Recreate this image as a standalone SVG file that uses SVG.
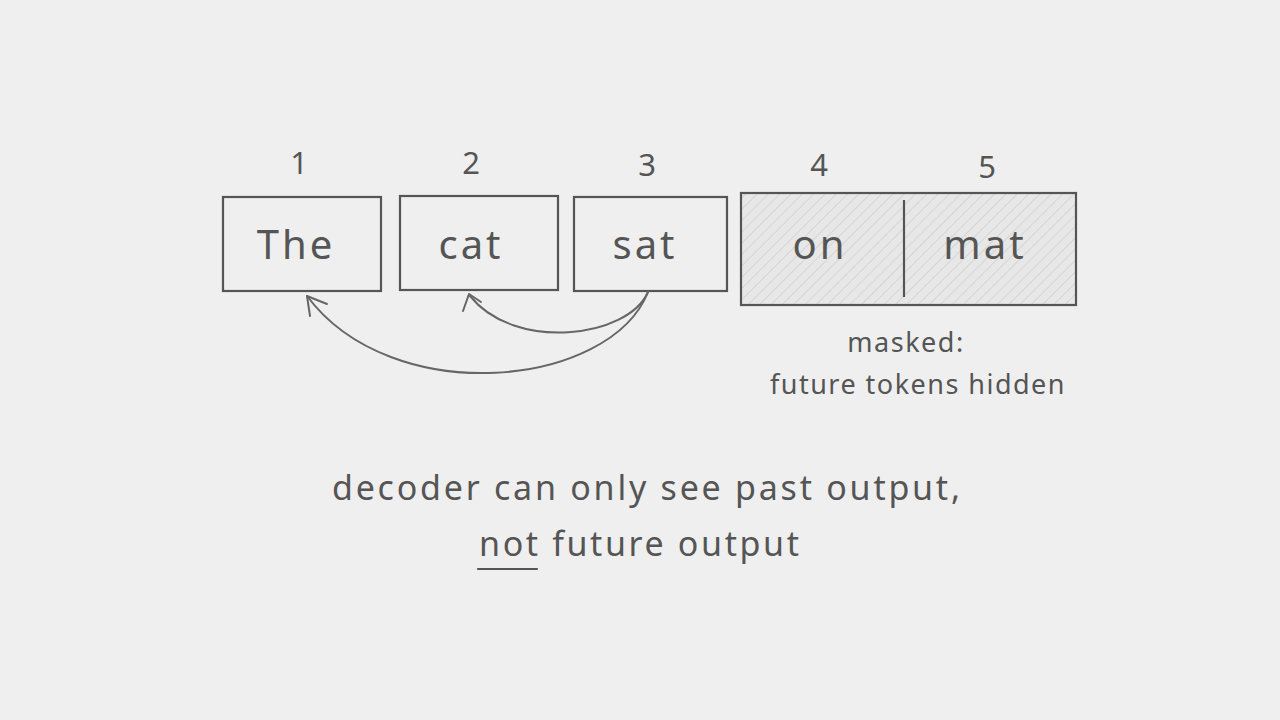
<svg xmlns="http://www.w3.org/2000/svg" width="1280" height="720" viewBox="0 0 1280 720">
<defs>
<pattern id="hatch" patternUnits="userSpaceOnUse" width="8" height="8" patternTransform="rotate(45)">
<rect width="8" height="8" fill="#e7e7e7"/>
<line x1="0" y1="0" x2="0" y2="8" stroke="#cfcfcf" stroke-width="1.5"/>
</pattern>
<style>
.box{fill:none;stroke:#555;stroke-width:2.2}
.t{font-family:"Noto Sans","DejaVu Sans",sans-serif;fill:#555;text-anchor:middle}
.num{font-size:31px}
.tok{font-size:40px;letter-spacing:3px}
.note{font-size:27px;letter-spacing:1.5px}
.cap{font-size:34px;letter-spacing:2px}
.arc{fill:none;stroke:#666;stroke-width:2;stroke-linecap:round;stroke-linejoin:round}
</style>
</defs>
<rect width="1280" height="720" fill="#efefef"/>
<g id="node-the">
<text class="t num" x="299" y="174">1</text>
<rect class="box" x="223" y="197" width="158" height="94"/>
<text class="t tok" x="296" y="259">The</text>
</g>
<g id="node-cat">
<text class="t num" x="471" y="174">2</text>
<rect class="box" x="400" y="196" width="158" height="94"/>
<text class="t tok" x="471" y="259">cat</text>
</g>
<g id="node-sat">
<text class="t num" x="647" y="176">3</text>
<rect class="box" x="574" y="197" width="153" height="94"/>
<text class="t tok" x="645" y="259">sat</text>
</g>
<g id="node-masked">
<text class="t num" x="819" y="176">4</text>
<text class="t num" x="987" y="178">5</text>
<rect x="741" y="193" width="335" height="112" fill="url(#hatch)" stroke="#555" stroke-width="2.2"/>
<line x1="904" y1="200" x2="904" y2="297" stroke="#555" stroke-width="2.2"/>
<text class="t tok" x="820" y="259">on</text>
<text class="t tok" x="985" y="259">mat</text>
<text class="t note" x="906" y="352">masked:</text>
<text class="t note" x="918" y="394" textLength="296" lengthAdjust="spacing">future tokens hidden</text>
</g>
<g id="connectors">
<path class="arc" d="M648,292 C628,338 515,352 470,296"/>
<path class="arc" d="M463,311 L469,294 L481,302"/>
<path class="arc" d="M648,292 C610,388 392,410 307,296"/>
<path class="arc" d="M310,316 L307,296 L327,304"/>
</g>
<g id="caption">
<text class="t cap" x="647" y="500" textLength="630" lengthAdjust="spacing">decoder can only see past output,</text>
<text class="t cap" x="640" y="556" textLength="322" lengthAdjust="spacing">not future output</text>
<line x1="478" y1="569" x2="537" y2="569" stroke="#555" stroke-width="2.2" stroke-linecap="round"/>
</g>
</svg>
